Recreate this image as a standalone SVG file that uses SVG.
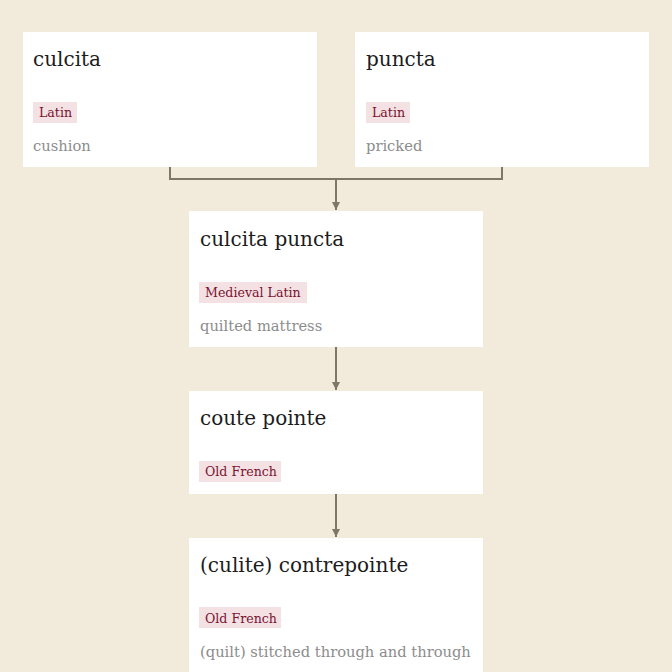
<svg xmlns="http://www.w3.org/2000/svg" width="672" height="672" viewBox="0 0 672 672">
<style>
.box{fill:#ffffff}
.title{font-family:"DejaVu Serif","Liberation Serif",serif;font-size:20px;fill:#1c1c1c}
.badge{fill:#f3e1e3}
.lang{font-family:"DejaVu Serif","Liberation Serif",serif;font-size:12.6px;fill:#7a1230}
.gloss{font-family:"DejaVu Serif","Liberation Serif",serif;font-size:14.7px;fill:#8c8c8c}
.edge{fill:none;stroke:#7d7866;stroke-width:2}
</style>
<defs>
<marker id="arr" markerWidth="10" markerHeight="10" refX="8" refY="5" orient="auto" markerUnits="userSpaceOnUse">
<path d="M0,1 L8,5 L0,9 Z" fill="#7d7866"/>
</marker>
</defs>
<rect width="672" height="672" fill="#f2ebdb"/>
<g id="connectors">
<path class="edge" d="M170,167 V179 H502 V167"/>
<path class="edge" d="M336,179 V210" marker-end="url(#arr)"/>
<path class="edge" d="M336,347 V390" marker-end="url(#arr)"/>
<path class="edge" d="M336,494 V537" marker-end="url(#arr)"/>
</g>
<g id="node-culcita">
<rect class="box" x="23" y="32" width="294" height="135"/>
<text class="title" x="33" y="66">culcita</text>
<rect class="badge" x="33" y="102" width="44" height="21"/>
<text class="lang" x="39" y="117">Latin</text>
<text class="gloss" x="33" y="151">cushion</text>
</g>
<g id="node-puncta">
<rect class="box" x="355" y="32" width="294" height="135"/>
<text class="title" x="366" y="66">puncta</text>
<rect class="badge" x="366" y="102" width="44" height="21"/>
<text class="lang" x="372" y="117">Latin</text>
<text class="gloss" x="366" y="151">pricked</text>
</g>
<g id="node-culcita-puncta">
<rect class="box" x="189" y="211" width="294" height="136"/>
<text class="title" x="200" y="246">culcita puncta</text>
<rect class="badge" x="199" y="282" width="108" height="21"/>
<text class="lang" x="205" y="297">Medieval Latin</text>
<text class="gloss" x="200" y="331">quilted mattress</text>
</g>
<g id="node-coute-pointe">
<rect class="box" x="189" y="391" width="294" height="103"/>
<text class="title" x="200" y="425">coute pointe</text>
<rect class="badge" x="199" y="461" width="82" height="21"/>
<text class="lang" x="205" y="476">Old French</text>
</g>
<g id="node-contrepointe">
<rect class="box" x="189" y="538" width="294" height="140"/>
<text class="title" x="200" y="572">(culite) contrepointe</text>
<rect class="badge" x="199" y="607" width="82" height="21"/>
<text class="lang" x="205" y="623">Old French</text>
<text class="gloss" x="200" y="657">(quilt) stitched through and through</text>
</g>
</svg>
